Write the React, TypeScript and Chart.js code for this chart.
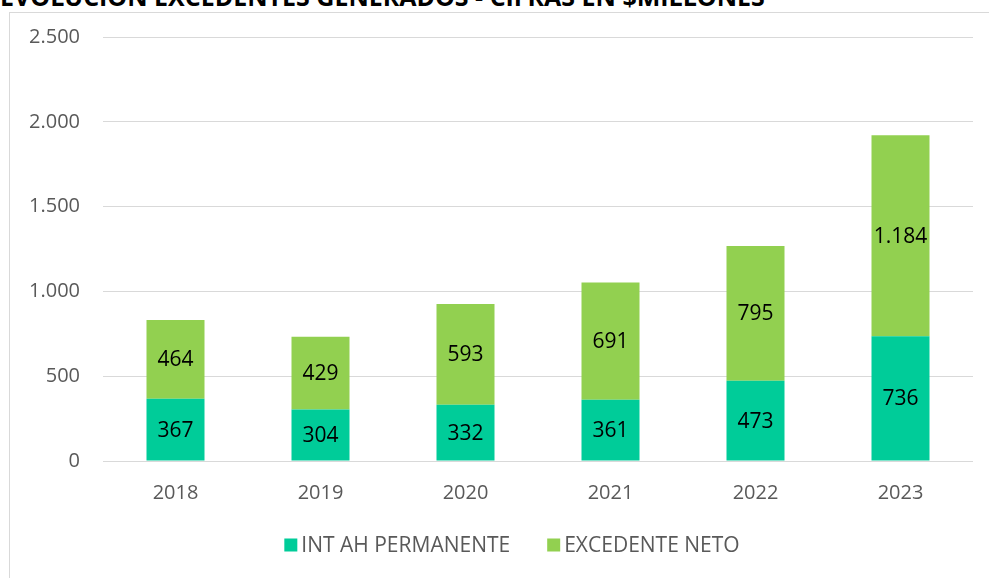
import React, { useEffect, useRef } from "react";
import { Chart, registerables } from "chart.js";

Chart.register(...registerables);

const TITLE = "EVOLUCIÓN EXCEDENTES GENERADOS - CIFRAS EN $MILLONES";
const years = ["2018", "2019", "2020", "2021", "2022", "2023"];
const intAhPermanente = [367, 304, 332, 361, 473, 736];
const excedenteNeto = [464, 429, 593, 691, 795, 1184];
const seriesNames = ["INT AH PERMANENTE", "EXCEDENTE NETO"];
const seriesColors = ["#00CC99", "#92D050"];

const FONT = "'Open Sans', 'Noto Sans', sans-serif";
const fmt = (v: number) => v.toLocaleString("de-DE");

const labelPlugin = {
  id: "segLabels",
  afterDatasetsDraw(chart: any) {
    const ctx = chart.ctx;
    ctx.save();
    ctx.font = `21px ${FONT}`;
    ctx.fillStyle = "#000000";
    ctx.textAlign = "center";
    ctx.textBaseline = "middle";
    chart.data.datasets.forEach((ds: any, di: number) => {
      const meta = chart.getDatasetMeta(di);
      meta.data.forEach((bar: any, i: number) => {
        const y = (bar.y + bar.base) / 2;
        ctx.fillText(fmt(ds.data[i]), bar.x, y + 1);
      });
    });
    ctx.restore();
  },
};

const legendPlugin = {
  id: "customLegend",
  afterDraw(chart: any) {
    const ctx = chart.ctx;
    ctx.save();
    ctx.font = `21px ${FONT}`;
    ctx.textBaseline = "middle";
    ctx.textAlign = "left";
    const box = 13;
    const gap = 4;
    const between = 37;
    const widths = seriesNames.map((n) => ctx.measureText(n).width);
    const total = widths.reduce((a, w) => a + box + gap + w, 0) + between * (seriesNames.length - 1);
    let x = 502 - total / 2;
    const y = chart.height - 33;
    seriesNames.forEach((n, i) => {
      ctx.fillStyle = seriesColors[i];
      ctx.fillRect(x, y - box / 2, box, box);
      x += box + gap;
      ctx.fillStyle = "#595959";
      ctx.fillText(n, x, y + 1);
      x += widths[i] + between;
    });
    ctx.restore();
  },
};

export default function App() {
  const ref = useRef<HTMLCanvasElement>(null);
  useEffect(() => {
    if (!ref.current) return;
    const chart = new Chart(ref.current, {
      type: "bar",
      data: {
        labels: years,
        datasets: [
          { label: seriesNames[0], data: intAhPermanente, backgroundColor: seriesColors[0], barPercentage: 0.8, categoryPercentage: 0.5 },
          { label: seriesNames[1], data: excedenteNeto, backgroundColor: seriesColors[1], barPercentage: 0.8, categoryPercentage: 0.5 },
        ],
      },
      options: {
        animation: false,
        responsive: false,
        maintainAspectRatio: false,
        layout: { padding: { left: 0, right: 16, top: 24, bottom: 53 } },
        plugins: {
          tooltip: { enabled: false },
          title: { display: false },
          legend: { display: false },
        },
        scales: {
          x: {
            stacked: true,
            grid: { display: false, drawTicks: false },
            border: { display: false },
            ticks: { font: { family: FONT, size: 20 }, color: "#595959", padding: 20 },
          },
          y: {
            stacked: true,
            min: 0,
            max: 2500,
            grid: { color: "#D9D9D9", lineWidth: 1, drawTicks: true, tickLength: 20, tickColor: "rgba(0,0,0,0)" },
            border: { display: false },
            ticks: {
              stepSize: 500,
              font: { family: FONT, size: 20 },
              color: "#595959",
              padding: 3,
              callback: (v: any) => fmt(Number(v)),
            },
            afterFit: (s: any) => { s.width = 93; },
          },
        },
      },
      plugins: [labelPlugin, legendPlugin],
    });
    return () => chart.destroy();
  }, []);

  return (
    <div style={{ position: "fixed", left: 0, top: 0, width: 989, height: 578, overflow: "hidden", background: "#fff" }}>
      <div style={{ position: "absolute", left: 0, top: -16, whiteSpace: "nowrap", font: `bold 25px/1 ${FONT}`, color: "#000" }}>{TITLE}</div>
      <div style={{ position: "absolute", left: 9, top: 12, width: 1000, height: 600, border: "1px solid #D9D9D9" }}>
        <canvas ref={ref} width={979} height={565} style={{ display: "block", width: 979, height: 565 }} />
      </div>
    </div>
  );
}
